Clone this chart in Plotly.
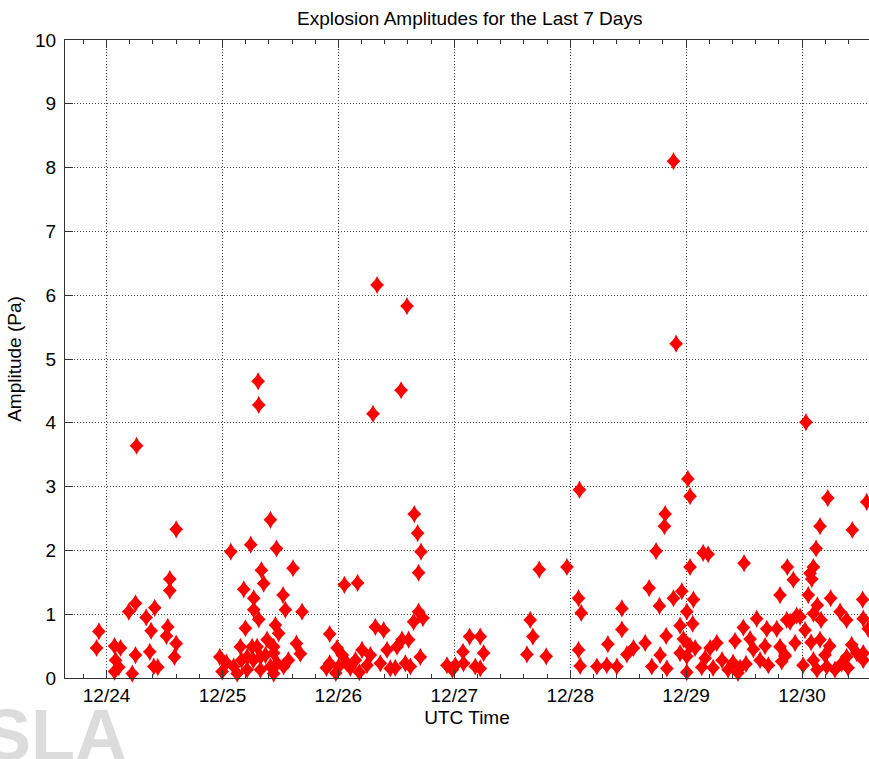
import pandas as pd
import plotly.graph_objects as go

# Event times as fractional day-of-month (December, UTC) and amplitudes in Pa
event_day = [
    23.934, 23.914, 24.069, 24.121, 24.078, 24.106, 24.069, 24.250, 24.192, 24.222,
    24.250, 24.259, 24.342, 24.385, 24.373, 24.408, 24.442, 24.416, 24.528, 24.517,
    24.546, 24.546, 24.601, 24.586, 24.601,
    24.977, 24.997, 25.072, 25.184, 25.198, 25.244, 25.270, 25.270, 25.308, 25.313,
    25.313, 25.336, 25.356, 25.414, 25.457, 25.466, 25.523, 25.543, 25.609, 25.638,
    25.672, 25.687, 25.097, 25.155, 25.213, 25.256, 25.299, 25.328, 25.385, 25.442,
    25.472, 25.127, 25.213, 25.328, 25.442, 25.485, 25.442, 25.528, 25.414, 25.034,
    25.267, 25.371, 25.569, 25.164,
    25.925, 25.989, 25.925, 26.003, 26.075, 26.147, 26.204, 26.247, 26.052, 26.166,
    26.319, 26.391, 26.334, 26.592, 26.541, 26.299, 26.655, 26.684, 26.713, 26.692,
    26.692, 26.649, 26.730, 26.707, 26.362, 26.420, 26.448, 26.506, 26.549, 26.578,
    26.606, 26.621, 25.978, 26.103, 26.276, 26.491, 26.034, 25.897, 26.181,
    26.937, 27.009, 27.075, 27.080, 27.132, 27.224, 27.181, 27.253, 27.224, 26.983,
    27.627, 27.655, 27.678, 27.733, 27.793, 27.972,
    28.080, 28.072, 28.095, 28.072, 28.086, 28.230, 28.316, 28.325, 28.403, 28.446,
    28.446, 28.489, 28.546, 28.647, 28.681, 28.741, 28.704, 28.770, 28.776, 28.819,
    28.813, 28.828, 28.834,
    28.891, 28.914, 29.015, 29.034, 29.147, 29.190, 29.034, 29.500, 28.891, 28.963,
    29.063, 29.006, 28.948, 29.057, 28.977, 29.034, 29.078, 28.948, 29.006, 29.006,
    29.164, 29.207, 29.265, 29.135, 29.422, 29.494, 29.609, 29.552, 29.580, 29.362,
    29.405, 29.466, 29.517, 29.448, 29.310, 29.681, 29.710, 29.696, 29.782, 29.853,
    29.897, 29.954, 29.233, 29.638,
    30.034, 30.222, 30.558, 30.155, 30.434, 30.121, 29.873, 30.098, 30.069, 30.084,
    29.925, 29.810, 30.054, 30.132, 30.247, 30.523, 30.328, 30.385, 29.868, 29.983,
    30.098, 29.853, 29.810, 29.825, 30.098, 30.213, 30.284, 30.342, 30.385, 30.472,
    30.528, 30.528, 30.571, 30.528, 30.026, 30.078, 30.155, 30.198, 30.009, 30.129,
    30.239, 30.428, 30.397, 29.940, 30.164,
]
amplitude_pa = [
    0.73, 0.47, 0.50, 0.47, 0.28, 0.17, 0.10, 1.17, 1.04, 0.07,
    0.36, 3.64, 0.95, 0.74, 0.41, 0.18, 0.17, 1.10, 0.80, 0.66,
    1.55, 1.37, 0.54, 0.33, 2.33,
    0.33, 0.10, 1.98, 1.39, 0.78, 2.09, 1.25, 1.07, 4.65, 4.28,
    0.92, 1.69, 1.48, 2.48, 0.83, 2.03, 1.30, 1.07, 1.72, 0.54,
    0.38, 1.04, 0.18, 0.49, 0.33, 0.49, 0.49, 0.33, 0.60, 0.49,
    0.23, 0.07, 0.13, 0.13, 0.07, 0.70, 0.39, 0.18, 0.18, 0.24,
    0.28, 0.36, 0.28, 0.28,
    0.69, 0.47, 0.23, 0.18, 0.23, 0.28, 0.44, 0.20, 1.46, 1.49,
    0.80, 0.75, 6.16, 5.83, 4.51, 4.14, 2.57, 2.27, 1.98, 1.65,
    1.04, 0.88, 0.94, 0.33, 0.23, 0.44, 0.15, 0.49, 0.60, 0.23,
    0.60, 0.18, 0.08, 0.16, 0.36, 0.16, 0.36, 0.16, 0.09,
    0.20, 0.20, 0.41, 0.23, 0.65, 0.65, 0.18, 0.39, 0.15, 0.13,
    0.37, 0.91, 0.65, 1.70, 0.34, 1.74,
    2.95, 1.25, 1.02, 0.44, 0.19, 0.18, 0.20, 0.53, 0.18, 1.09,
    0.76, 0.37, 0.47, 0.55, 1.41, 1.99, 0.18, 1.13, 0.36, 2.57,
    2.38, 0.66, 0.15,
    8.10, 5.24, 3.12, 2.85, 1.96, 1.94, 1.74, 1.80, 1.25, 1.36,
    1.23, 1.04, 0.82, 0.85, 0.61, 0.50, 0.47, 0.39, 0.34, 0.09,
    0.31, 0.47, 0.55, 0.17, 0.58, 0.79, 0.93, 0.61, 0.45, 0.13,
    0.24, 0.16, 0.22, 0.08, 0.28, 0.50, 0.20, 0.77, 0.77, 0.36,
    0.88, 0.98, 0.16, 0.28,
    4.01, 2.82, 2.76, 2.38, 2.32, 2.03, 1.74, 1.74, 1.64, 1.55,
    1.54, 1.30, 1.30, 1.14, 1.25, 1.23, 1.04, 0.91, 0.91, 0.96,
    1.01, 0.34, 0.49, 0.26, 0.28, 0.18, 0.13, 0.23, 0.33, 0.39,
    0.28, 0.93, 0.77, 0.39, 0.75, 0.56, 0.60, 0.36, 0.20, 0.13,
    0.50, 0.52, 0.16, 0.55, 0.91,
]

y_ticks = list(range(0, 11))
title_text = "Explosion Amplitudes for the Last 7 Days"
x_title = "UTC Time"
y_title = "Amplitude (Pa)"
watermark_text = "SLA"
x_start = "2013-12-23 15:24"
x_end = "2013-12-30 13:52"

month_start = pd.Timestamp("2013-12-01")
times = [month_start + pd.to_timedelta(d - 1, unit="D") for d in event_day]

FONT = "Arial, Liberation Sans, Helvetica, sans-serif"
FS = 19
RED = "#ff0000"
AX = "#333333"

fig = go.Figure()
# union of a square diamond and a tall diamond -> MATLAB-like elongated diamond
fig.add_trace(go.Scatter(x=times, y=amplitude_pa, mode="markers", cliponaxis=False,
                         marker=dict(symbol="diamond", size=10.6, color=RED, line=dict(width=0)),
                         hoverinfo="skip"))
fig.add_trace(go.Scatter(x=times, y=amplitude_pa, mode="markers", cliponaxis=False,
                         marker=dict(symbol="diamond-tall", size=13.0, color=RED, line=dict(width=0))))

fig.update_layout(
    width=869, height=759,
    margin=dict(l=65, r=0, t=40, b=81),
    paper_bgcolor="white", plot_bgcolor="white",
    showlegend=False,
    font=dict(family=FONT, size=FS, color="black"),
    title=dict(text=title_text, x=0.5034, xref="paper", xanchor="center",
               y=1 - 18 / 759, yref="container", yanchor="middle",
               font=dict(family=FONT, size=FS, color="black")),
    annotations=[dict(text="<b>" + watermark_text + "</b>", xref="paper", yref="paper",
                      x=-0.104, y=-0.09, xanchor="left", yanchor="middle",
                      showarrow=False,
                      font=dict(family=FONT, size=72, color="#dcdcdc"))],
)

fig.update_xaxes(
    type="date", range=[x_start, x_end], automargin=False,
    tick0="2013-12-24", dtick=86400000, tickformat="%m/%d",
    ticks="inside", ticklen=8, tickwidth=1, tickcolor=AX,
    minor=dict(tick0="2013-12-24", dtick=17280000, ticks="inside", ticklen=4,
               tickcolor=AX, showgrid=False),
    showgrid=True, gridcolor="#444444", gridwidth=1, griddash="1px,2px",
    showline=True, linecolor=AX, linewidth=1, mirror="allticks",
    zeroline=False,
    tickfont=dict(family=FONT, size=FS, color="black"),
    title=dict(text=x_title, standoff=5, font=dict(family=FONT, size=FS, color="black")),
)
fig.update_yaxes(
    range=[0, 10], tickvals=y_ticks, automargin=False,
    ticks="inside", ticklen=8, tickwidth=1, tickcolor=AX,
    ticklabelstandoff=4,
    showgrid=True, gridcolor="#444444", gridwidth=1, griddash="1px,2px",
    showline=True, linecolor=AX, linewidth=1, mirror=False,
    zeroline=False,
    tickfont=dict(family=FONT, size=FS, color="black"),
    title=dict(text=y_title, standoff=8, font=dict(family=FONT, size=FS, color="black")),
)

fig.write_html("out.html",
               config={"displayModeBar": False, "staticPlot": True},
               post_script="document.body.style.margin='0';document.body.style.overflow='hidden';")
